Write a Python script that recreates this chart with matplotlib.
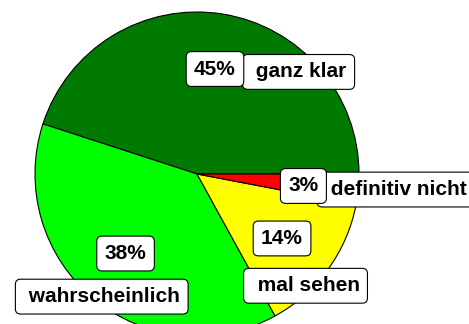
import matplotlib
matplotlib.use("Agg")
import matplotlib.pyplot as plt

labels = ["ganz klar", "wahrscheinlich", "mal sehen", "definitiv nicht"]
shares = [45, 38, 14, 3]
colors = ["#007a00", "#00ff00", "#ffff00", "#ff0000"]

# hand-placed label spots (pie radius = 1)
pct_pos = [(0.111, 0.648), (-0.441, -0.491), (0.525, -0.398), (0.657, -0.074)]
name_pos = [(0.627, 0.630), (-0.588, -0.757), (0.670, -0.690), (1.227, -0.096)]

plt.rcParams["font.family"] = ["Liberation Sans", "DejaVu Sans"]

fig = plt.figure(figsize=(4.69, 3.24), dpi=100)
ax = fig.add_axes([0, 0, 1, 1])

ax.pie(shares, colors=colors, startangle=0, counterclock=True,
       wedgeprops=dict(edgecolor="black", linewidth=0.8))

box = dict(boxstyle="round,pad=0.38,rounding_size=0.25",
           facecolor="white", edgecolor="black", linewidth=0.8)

# names first so the percentage boxes sit on top
for name, (x, y) in zip(labels, name_pos):
    ax.text(x, y, " " + name, ha="center", va="center",
            fontsize=15, fontweight="bold", bbox=box, zorder=3)
for val, (x, y) in zip(shares, pct_pos):
    ax.text(x, y, f"{val}%", ha="center", va="center",
            fontsize=15, fontweight="bold", bbox=box, zorder=4)

ax.set_xlim(-1.216, 1.679)
ax.set_ylim(-0.926, 1.074)
ax.set_aspect("equal")
ax.axis("off")

fig.savefig("out.png", dpi=100)
